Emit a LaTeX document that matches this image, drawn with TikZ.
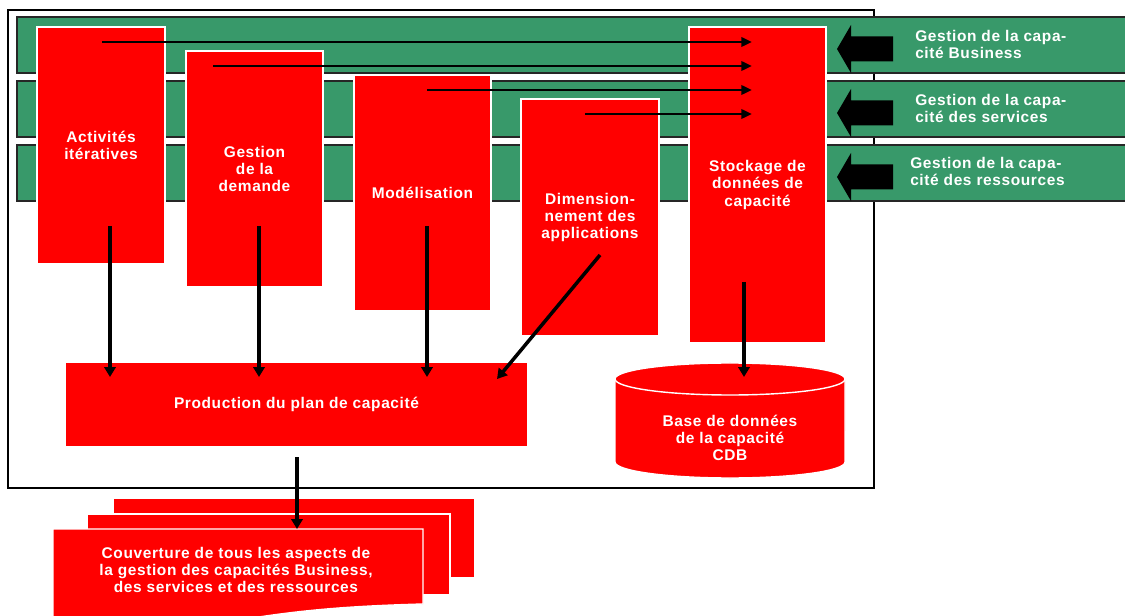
\documentclass[tikz,border=0pt]{standalone}
\usepackage{fontspec}
\setmainfont{Liberation Sans}[LetterSpace=4]
\usetikzlibrary{arrows.meta}
\definecolor{bandgreen}{RGB}{56,153,106}
\tikzset{
  redbox/.style={fill=red, draw=white, line width=1.3pt, text=white, align=center,
    inner sep=0pt, font=\bfseries\fontsize{11}{12.2}\selectfont},
  sheet/.style={fill=red, draw=white, line width=1pt},
  band/.style={fill=bandgreen, draw=black!85, line width=0.8pt},
  bandtext/.style={text=white, align=left, inner sep=0pt, anchor=west,
    font=\bfseries\fontsize{11}{12.2}\selectfont},
  flow/.style={-{Triangle[length=7.5pt,width=6.5pt]}, line width=2pt},
  feed/.style={-{Triangle[length=7pt,width=8pt]}, line width=2.5pt},
}
\begin{document}
\begin{tikzpicture}[x=0.025cm, y=-0.025cm]
    \clip (0,0) rectangle (1125,616);
    %% Frame and bands
    \draw[line width=1pt] (8,10) rectangle (874,488);
    \foreach \t in {17,81,145}
        \draw[band] (17,\t) rectangle (1140,\t+56);
    %% Input arrows
    \foreach \c in {49,113,177}
        \fill (837,\c) -- (851,\c-24) -- (851,\c-12.5) -- (893,\c-12.5)
            -- (893,\c+12.5) -- (851,\c+12.5) -- (851,\c+24) -- cycle;
    \node[bandtext] (busi) at (915,44.5) {Gestion de la capa-\\cité Business};
    \node[bandtext] (serv) at (915,108.5) {Gestion de la capa-\\cité des services};
    \node[bandtext] (ress) at (910,171.5) {Gestion de la capa-\\cité des ressources};
    %% Activities
    \node[redbox, minimum width=3.2cm, minimum height=5.925cm] (act) at (101,145.5) {Activités\\itératives};
    \node[redbox, minimum width=3.425cm, minimum height=5.9cm] (dem) at (254.5,169) {Gestion\\de la\\demande};
    \node[redbox, minimum width=3.425cm, minimum height=5.9cm] (mod) at (422.5,193) {Modélisation};
    \node[redbox, minimum width=3.45cm, minimum height=5.925cm] (dim) at (590,217.5) {Dimension-\\nement des\\applications};
    \node[redbox, minimum width=3.425cm, minimum height=7.9cm] (stk) at (757.5,185) {Stockage de\\données de\\capacité};
    \node[redbox, minimum width=11.575cm, minimum height=2.125cm] (prod) at (296.5,404.5) {Production du plan de capacité};
    %% Database
    \draw[sheet] (615,379) -- (615,462)
        arc[start angle=180, end angle=360, x radius=2.875cm, y radius=0.4cm] -- (845,379)
        arc[start angle=0, end angle=180, x radius=2.875cm, y radius=0.4cm] -- cycle;
    \draw[white, line width=1pt] (615,379) arc[start angle=180, end angle=360, x radius=2.875cm, y radius=0.4cm];
    \node[redbox, fill=none, draw=none] (cdb) at (730,438) {Base de données\\de la capacité\\CDB};
    %% Output documents
    \draw[sheet] (113,498) rectangle (475,578);
    \draw[sheet] (87,514) rectangle (450,595);
    \draw[sheet] (53,529) -- (423,529) -- (423,604)
        .. controls (350,606) and (300,610) .. (240,620) -- (53,630) -- cycle;
    \node[redbox, fill=none, draw=none] (cov) at (236,570) {Couverture de tous les aspects de\\la gestion des capacités Business,\\des services et des ressources};
    %% Arrows
    \foreach \x/\y [count=\i] in {102/42, 213/66, 427/90, 585/114} {
        \coordinate (h\i) at (\x,\y);
        \coordinate (g\i) at (752,\y);
        \draw[flow] (h\i) -- (g\i);
    }
    \foreach \x [count=\i] in {110,259,427} {
        \coordinate (v\i) at (\x,226);
        \coordinate (w\i) at (\x,377);
        \draw[feed] (v\i) -- (w\i);
    }
    \coordinate (d1) at (600,255);
    \coordinate (d2) at (497,379);
    \draw[feed] (d1) -- (d2);
    \coordinate (k1) at (744,282);
    \coordinate (k2) at (744,377);
    \draw[feed] (k1) -- (k2);
    \coordinate (p1) at (297,457);
    \coordinate (p2) at (297,529);
    \draw[feed] (p1) -- (p2);
\end{tikzpicture}
\end{document}
